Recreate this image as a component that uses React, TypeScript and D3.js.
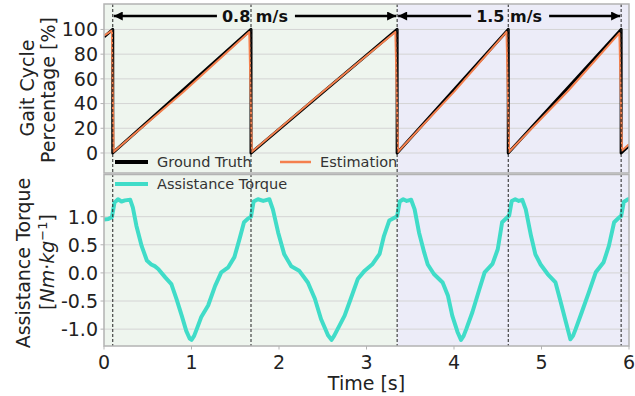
import React from "react";
import * as d3 from "d3";

// heel strikes (s) and the two walking speeds
const heelStrikes = [0.1, 1.68, 3.35, 4.62, 5.91];
const speedSegments = [
  { label: "0.8 m/s", from: 0.1, to: 3.35 },
  { label: "1.5 m/s", from: 3.35, to: 5.91 },
];
const bgSpans = [
  { from: 0, to: 3.35, color: "#eef5ee" },
  { from: 3.35, to: 6, color: "#ececf8" },
];

const xTicks = [0, 1, 2, 3, 4, 5, 6];
const gaitTicks = [0, 20, 40, 60, 80, 100];
const torqueTicks = [-1.0, -0.5, 0.0, 0.5, 1.0];

// gait cycle percentage
const gtTime = [0, 0.1, 0.1, 1.68, 1.68, 3.35, 3.35, 4.62, 4.62, 5.91, 5.91, 6.0];
const gtPct = [94, 100, 0, 100, 0, 100, 0, 100, 0, 100, 0, 6];
const estTime = [0, 0.09, 0.11, 0.9, 1.66, 1.69, 2.5, 3.33, 3.36, 4.0, 4.6, 4.63, 5.3, 5.89, 5.92, 6.0];
const estPct = [95, 99, 1, 49, 98, 1, 49.5, 98, 1, 49.5, 98, 1, 50, 97, 2, 7];

// assistance torque [Nm/kg]
const torqueTime = [
  0, 0.05, 0.09, 0.12, 0.16, 0.2, 0.24, 0.3, 0.33, 0.37, 0.43, 0.49, 0.54, 0.58, 0.62, 0.7, 0.77, 0.83, 0.89,
  0.94, 0.98, 1.0, 1.03, 1.06, 1.11, 1.19, 1.27, 1.34, 1.42, 1.49, 1.55, 1.6, 1.65, 1.68,
  1.71, 1.76, 1.82, 1.89, 1.93, 1.99, 2.06, 2.14, 2.23, 2.33, 2.41, 2.48, 2.56, 2.6, 2.63, 2.67, 2.75, 2.82,
  2.9, 2.98, 3.07, 3.15, 3.2, 3.26, 3.33, 3.35,
  3.38, 3.42, 3.46, 3.51, 3.55, 3.6, 3.66, 3.7, 3.77, 3.87, 3.93, 3.98, 4.04, 4.08, 4.11, 4.14, 4.21, 4.29,
  4.35, 4.44, 4.5, 4.55, 4.61, 4.63,
  4.66, 4.7, 4.74, 4.78, 4.82, 4.88, 4.93, 4.99, 5.07, 5.16, 5.22, 5.28, 5.33, 5.36, 5.39, 5.46, 5.54, 5.62,
  5.71, 5.77, 5.83, 5.89, 5.91, 5.94, 5.99, 6.0,
];
const torqueValue = [
  0.95, 0.96, 0.99, 1.25, 1.31, 1.27, 1.29, 1.3, 1.16, 0.84, 0.48, 0.22, 0.15, 0.12, 0.07, -0.08, -0.2, -0.47, -0.77,
  -1.03, -1.17, -1.19, -1.12, -1.0, -0.79, -0.58, -0.23, 0.01, 0.1, 0.28, 0.61, 0.9, 0.97, 1.0,
  1.27, 1.31, 1.28, 1.31, 1.13, 0.72, 0.33, 0.12, 0.04, -0.17, -0.46, -0.82, -1.11, -1.19, -1.12, -1.0, -0.76, -0.46,
  -0.11, 0.04, 0.16, 0.34, 0.66, 0.93, 0.99, 1.01,
  1.27, 1.31, 1.28, 1.3, 1.13, 0.72, 0.36, 0.15, -0.02, -0.17, -0.4, -0.76, -1.05, -1.19, -1.12, -1.0, -0.7, -0.29,
  0.01, 0.16, 0.42, 0.9, 0.99, 1.02,
  1.28, 1.31, 1.28, 1.3, 1.13, 0.66, 0.33, 0.15, -0.02, -0.17, -0.52, -0.88, -1.18, -1.12, -1.0, -0.7, -0.35, 0.01,
  0.19, 0.48, 0.9, 0.99, 1.01, 1.26, 1.31, 1.31,
];

const W = 635;
const H = 396;
const left = 104;
const right = 629;
const top1 = 4;
const bot1 = 173;
const top2 = 174.5;
const bot2 = 346;
const font = "DejaVu Sans, sans-serif";
const spine = "#b3b3b3";
const grid = "#d4d4d4";
const fs = 19;

export default function App() {
  const x = d3.scaleLinear().domain([0, 6]).range([left, right]);
  const yG = d3.scaleLinear().domain([-16.2, 120.6]).range([bot1, top1]);
  const yT = d3.scaleLinear().domain([-1.3, 1.75]).range([bot2, top2]);

  const lineG = d3
    .line<number>()
    .x((d, i) => x(gtTime[i]))
    .y((d) => yG(d));
  const lineE = d3
    .line<number>()
    .x((d, i) => x(estTime[i]))
    .y((d) => yG(d));
  const lineT = d3
    .line<number>()
    .x((d, i) => x(torqueTime[i]))
    .y((d) => yT(d));

  const arrowY = 16;

  return (
    <div style={{ position: "absolute", left: 0, top: 0 }}>
      <svg width={W} height={H} style={{ display: "block", background: "#fff" }} fontFamily={font}>
        <defs>
          <clipPath id="c1">
            <rect x={left} y={top1} width={right - left} height={bot1 - top1} />
          </clipPath>
          <clipPath id="c2">
            <rect x={left} y={top2} width={right - left} height={bot2 - top2} />
          </clipPath>
          <marker id="ah" viewBox="0 0 10 10" refX="10" refY="5" markerWidth="4" markerHeight="3.6" orient="auto-start-reverse" markerUnits="strokeWidth">
            <path d="M0,0 L10,5 L0,10 z" fill="#000" />
          </marker>
        </defs>

        {/* backgrounds */}
        {[
          [top1, bot1],
          [top2, bot2],
        ].map(([t, b], k) =>
          bgSpans.map((s, i) => (
            <rect key={`bg${k}-${i}`} x={x(s.from)} y={t} width={x(s.to) - x(s.from)} height={b - t} fill={s.color} />
          ))
        )}

        {/* gridlines */}
        {gaitTicks.map((v) => (
          <line key={`gg${v}`} x1={left} x2={right} y1={yG(v)} y2={yG(v)} stroke={grid} strokeWidth={1} />
        ))}
        {torqueTicks.map((v) => (
          <line key={`tg${v}`} x1={left} x2={right} y1={yT(v)} y2={yT(v)} stroke={grid} strokeWidth={1} />
        ))}

        {/* gait lines */}
        <g clipPath="url(#c1)">
          <path d={lineG(gtPct) || ""} fill="none" stroke="#000" strokeWidth={3} strokeLinejoin="round" />
          <path d={lineE(estPct) || ""} fill="none" stroke="#f4804e" strokeWidth={2} strokeLinejoin="round" />
        </g>

        {/* torque line */}
        <g clipPath="url(#c2)">
          <path d={lineT(torqueValue) || ""} fill="none" stroke="#40dcc8" strokeWidth={4} strokeLinejoin="round" />
        </g>

        {/* heel strike dashed lines */}
        {heelStrikes.map((t) => (
          <line key={`hs${t}`} x1={x(t)} x2={x(t)} y1={top1} y2={bot2} stroke="#222" strokeWidth={1} strokeDasharray="3,2" />
        ))}

        {/* speed arrows */}
        {speedSegments.map((s) => {
          const cx = (x(s.from) + x(s.to)) / 2;
          return (
            <g key={s.label}>
              <line x1={cx - 38} x2={x(s.from) + 1} y1={arrowY} y2={arrowY} stroke="#000" strokeWidth={2.5} markerEnd="url(#ah)" />
              <line x1={cx + 40} x2={x(s.to) - 1} y1={arrowY} y2={arrowY} stroke="#000" strokeWidth={2.5} markerEnd="url(#ah)" />
              <text x={cx} y={arrowY + 6} textAnchor="middle" fontSize={16} fontWeight="bold" fill="#111">
                {s.label}
              </text>
            </g>
          );
        })}

        {/* spines */}
        <rect x={left} y={top1} width={right - left} height={bot1 - top1} fill="none" stroke={spine} strokeWidth={1.5} />
        <rect x={left} y={top2} width={right - left} height={bot2 - top2} fill="none" stroke={spine} strokeWidth={1.5} />

        {/* y ticks */}
        {gaitTicks.map((v) => (
          <g key={`gt${v}`}>
            <line x1={left - 3.5} x2={left} y1={yG(v)} y2={yG(v)} stroke={spine} strokeWidth={1} />
            <text x={left - 6} y={yG(v)} dy="0.36em" textAnchor="end" fontSize={fs} fill="#222">
              {v}
            </text>
          </g>
        ))}
        {torqueTicks.map((v) => (
          <g key={`tt${v}`}>
            <line x1={left - 3.5} x2={left} y1={yT(v)} y2={yT(v)} stroke={spine} strokeWidth={1} />
            <text x={left - 6} y={yT(v)} dy="0.36em" textAnchor="end" fontSize={fs} fill="#222">
              {v.toFixed(1)}
            </text>
          </g>
        ))}

        {/* x ticks */}
        {xTicks.map((v) => (
          <g key={`xt${v}`}>
            <line x1={x(v)} x2={x(v)} y1={bot2} y2={bot2 + 3.5} stroke={spine} strokeWidth={1} />
            <text x={x(v)} y={bot2 + 23} textAnchor="middle" fontSize={fs} fill="#222">
              {v}
            </text>
          </g>
        ))}
        <text x={(left + right) / 2} y={390} textAnchor="middle" fontSize={fs} fill="#222">
          Time [s]
        </text>

        {/* y labels */}
        <text transform="translate(34,88) rotate(-90)" textAnchor="middle" fontSize={fs} fill="#222">
          Gait Cycle
        </text>
        <text transform="translate(55,90) rotate(-90)" textAnchor="middle" fontSize={fs} fill="#222">
          Percentage [%]
        </text>
        <text transform="translate(30,263) rotate(-90)" textAnchor="middle" fontSize={fs} fill="#222">
          Assistance Torque
        </text>
        <text transform="translate(54,262) rotate(-90)" textAnchor="middle" fontSize={fs} fill="#222">
          [<tspan fontStyle="italic">Nm</tspan>
          {"\u00b7"}
          <tspan fontStyle="italic">kg</tspan>
          <tspan dy={-7} fontSize={13}>{"\u22121"}</tspan>
          <tspan dy={7}>]</tspan>
        </text>

        {/* legends */}
        <line x1={115} x2={148} y1={162} y2={162} stroke="#000" strokeWidth={4} />
        <text x={157} y={167} fontSize={14.5} fill="#333">
          Ground Truth
        </text>
        <line x1={280} x2={311} y1={162} y2={162} stroke="#f4804e" strokeWidth={2.5} />
        <text x={320} y={167} fontSize={14.5} fill="#333">
          Estimation
        </text>
        <line x1={115} x2={148} y1={184} y2={184} stroke="#40dcc8" strokeWidth={4} />
        <text x={157} y={189} fontSize={14.5} fill="#333">
          Assistance Torque
        </text>
      </svg>
    </div>
  );
}
